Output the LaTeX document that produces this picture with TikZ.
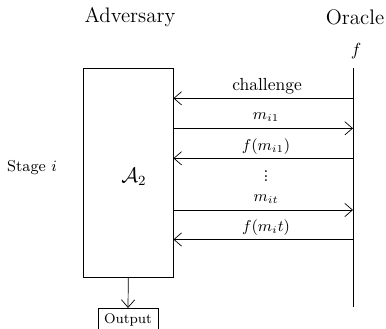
\documentclass[tikz,border=0pt]{standalone}
\usetikzlibrary{arrows.meta}
\begin{document}
\begin{tikzpicture}[x=0.5714pt,y=-0.5714pt,
  msg/.style={-{Straight Barb[length=4.4pt,width=7.6pt]}},
  lbl/.style={inner sep=0pt,font=\small}]
\useasboundingbox (0,0) rectangle (386,328);
\node[font=\large] (adv) at (130,17) {Adversary};
\node[font=\large] (orc) at (355,17) {Oracle};
\node (f) at (356,51) {$f$};
\node[draw,minimum width=51.1pt,minimum height=119.7pt,inner sep=0pt] (A) at (128.3,173) {};
\node[font=\large] (a2) at (134,177) {$\mathcal{A}_2$};
\node[font=\small] (stage) at (32,168) {Stage $i$};
\coordinate (ot) at (353,68);
\coordinate (ob) at (353,307);
\draw (ot) -- (ob);
\coordinate (o1) at (353,98.3);
\coordinate (o2) at (353,128.3);
\coordinate (o3) at (353,158.3);
\coordinate (o4) at (353,210);
\coordinate (o5) at (353,239.5);
\draw[msg] (o1) -- (A.east |- o1);
\draw[msg] (A.east |- o2) -- (o2);
\draw[msg] (o3) -- (A.east |- o3);
\draw[msg] (A.east |- o4) -- (o4);
\draw[msg] (o5) -- (A.east |- o5);
\node[inner sep=0pt] (l1) at (267,86) {challenge};
\node[lbl] (l2) at (266,117) {$m_{i1}$};
\node[lbl] (l3) at (266,147) {$f(m_{i1})$};
\node[inner sep=0pt] (l4) at (266,176.5) {\vbox{\baselineskip2.6pt\lineskiplimit-5pt\hbox{.}\hbox{.}\hbox{.}}};
\node[lbl] (l5) at (266,199) {$m_{it}$};
\node[lbl] (l6) at (266,228) {$f(m_it)$};
\node[draw,font=\footnotesize,minimum width=34.3pt,minimum height=12.8pt,inner sep=1pt] (out) at (128,319.5) {Output};
\draw[msg] (A.south) -- (out.north);
\end{tikzpicture}
\end{document}
